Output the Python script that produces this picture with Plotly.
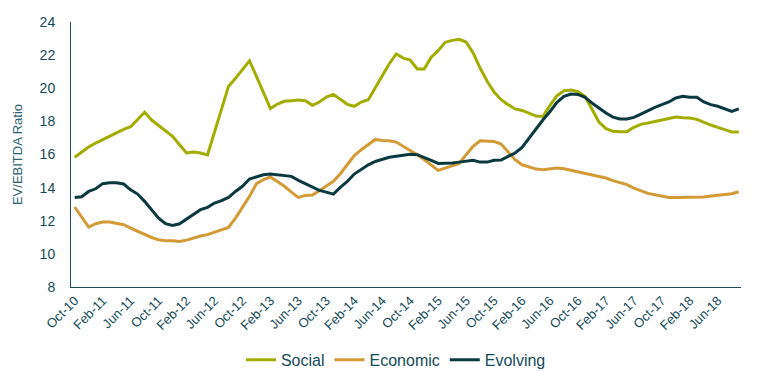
import plotly.graph_objects as go

months = ["Jan", "Feb", "Mar", "Apr", "May", "Jun", "Jul", "Aug", "Sep", "Oct", "Nov", "Dec"]
categories = []
y, m = 2010, 9
for _ in range(96):
    categories.append(f"{months[m]}-{str(y)[2:]}")
    m += 1
    if m == 12:
        m = 0
        y += 1

social = [15.83, 16.15, 16.45, 16.69, 16.91, 17.11, 17.32, 17.52, 17.68, 18.12,
          18.56, 18.08, 17.76, 17.40, 17.10, 16.59, 16.09, 16.15, 16.09, 15.97,
          17.38, 18.70, 20.11, 20.60, 21.12, 21.66, 20.72, 19.75, 18.77, 19.05,
          19.21, 19.25, 19.29, 19.25, 18.97, 19.17, 19.47, 19.63, 19.31, 19.03,
          18.91, 19.17, 19.31, 20.05, 20.78, 21.48, 22.07, 21.82, 21.70, 21.16,
          21.16, 21.87, 22.27, 22.77, 22.89, 22.95, 22.79, 22.13, 21.22, 20.42,
          19.77, 19.31, 19.01, 18.75, 18.66, 18.50, 18.32, 18.30, 18.97, 19.55,
          19.85, 19.89, 19.79, 19.51, 18.70, 17.96, 17.56, 17.40, 17.38, 17.38,
          17.64, 17.82, 17.90, 18.00, 18.08, 18.20, 18.26, 18.22, 18.20, 18.12,
          17.94, 17.78, 17.64, 17.50, 17.36, 17.36]

economic = [12.83, 12.20, 11.62, 11.82, 11.92, 11.92, 11.86, 11.76, 11.56, 11.36,
            11.18, 10.99, 10.85, 10.79, 10.79, 10.75, 10.83, 10.96, 11.08, 11.16,
            11.32, 11.46, 11.60, 12.16, 12.82, 13.47, 14.24, 14.48, 14.64, 14.38,
            14.08, 13.73, 13.41, 13.53, 13.55, 13.81, 14.12, 14.38, 14.84, 15.38,
            15.93, 16.29, 16.59, 16.91, 16.85, 16.83, 16.75, 16.49, 16.28, 15.99,
            15.69, 15.38, 15.04, 15.18, 15.32, 15.46, 15.99, 16.49, 16.83, 16.81,
            16.79, 16.63, 16.19, 15.69, 15.38, 15.24, 15.12, 15.08, 15.12, 15.18,
            15.14, 15.04, 14.95, 14.86, 14.78, 14.66, 14.58, 14.42, 14.30, 14.18,
            13.97, 13.81, 13.65, 13.57, 13.47, 13.41, 13.41, 13.41, 13.41, 13.41,
            13.43, 13.49, 13.53, 13.55, 13.63, 13.75]

evolving = [13.41, 13.45, 13.77, 13.93, 14.24, 14.30, 14.30, 14.22, 13.87, 13.61,
            13.17, 12.67, 12.16, 11.82, 11.72, 11.82, 12.10, 12.42, 12.67, 12.81,
            13.07, 13.21, 13.41, 13.77, 14.08, 14.52, 14.66, 14.78, 14.82, 14.78,
            14.76, 14.68, 14.44, 14.24, 14.03, 13.83, 13.73, 13.61, 14.01, 14.38,
            14.82, 15.12, 15.38, 15.58, 15.69, 15.83, 15.89, 15.95, 16.01, 15.99,
            15.83, 15.65, 15.46, 15.46, 15.48, 15.54, 15.61, 15.65, 15.54, 15.54,
            15.65, 15.67, 15.89, 16.09, 16.43, 17.00, 17.60, 18.10, 18.60, 19.15,
            19.51, 19.65, 19.63, 19.45, 19.11, 18.81, 18.50, 18.26, 18.14, 18.14,
            18.24, 18.44, 18.66, 18.85, 19.01, 19.17, 19.41, 19.51, 19.45, 19.45,
            19.17, 19.01, 18.91, 18.75, 18.60, 18.76]

tick_labels = categories[::4]

TEXT = "#164B57"
FONT = "Liberation Sans, Arial, sans-serif"

fig = go.Figure()
for name, vals, col in [("Social", social, "#A2AD00"),
                        ("Economic", economic, "#D49A36"),
                        ("Evolving", evolving, "#0A3A40")]:
    fig.add_trace(go.Scatter(x=categories, y=vals, name=name, mode="lines",
                             line=dict(color=col, width=3)))

fig.update_layout(
    width=758, height=372,
    margin=dict(l=63, r=25, t=14, b=93, autoexpand=False),
    paper_bgcolor="white", plot_bgcolor="white",
    font=dict(family=FONT, color=TEXT, size=13),
    showlegend=True,
    legend=dict(orientation="h", x=0.485, xanchor="center", y=-0.275, yanchor="middle",
                font=dict(size=16, color=TEXT), itemwidth=30, tracegroupgap=0),
    xaxis=dict(type="category", categoryorder="array", categoryarray=categories,
               range=[-0.53, 95.32], tickmode="array", tickvals=tick_labels,
               ticktext=tick_labels, tickangle=-45, tickfont=dict(size=13, color=TEXT),
               showline=True, linecolor="#1E4D57", linewidth=1, showgrid=False,
               ticks="", zeroline=False, automargin=False),
    yaxis=dict(range=[8, 24], tickvals=list(range(8, 25, 2)), showgrid=False,
               showline=True, linecolor="#1E4D57", linewidth=1,
               ticks="outside", ticklen=12, tickcolor="rgba(0,0,0,0)",
               tickfont=dict(size=14, color=TEXT), zeroline=False, automargin=False,
               title=dict(text="EV/EBITDA Ratio", font=dict(size=13, color="#2C6470"),
                          standoff=14)),
)

fig.write_html("out.html")
